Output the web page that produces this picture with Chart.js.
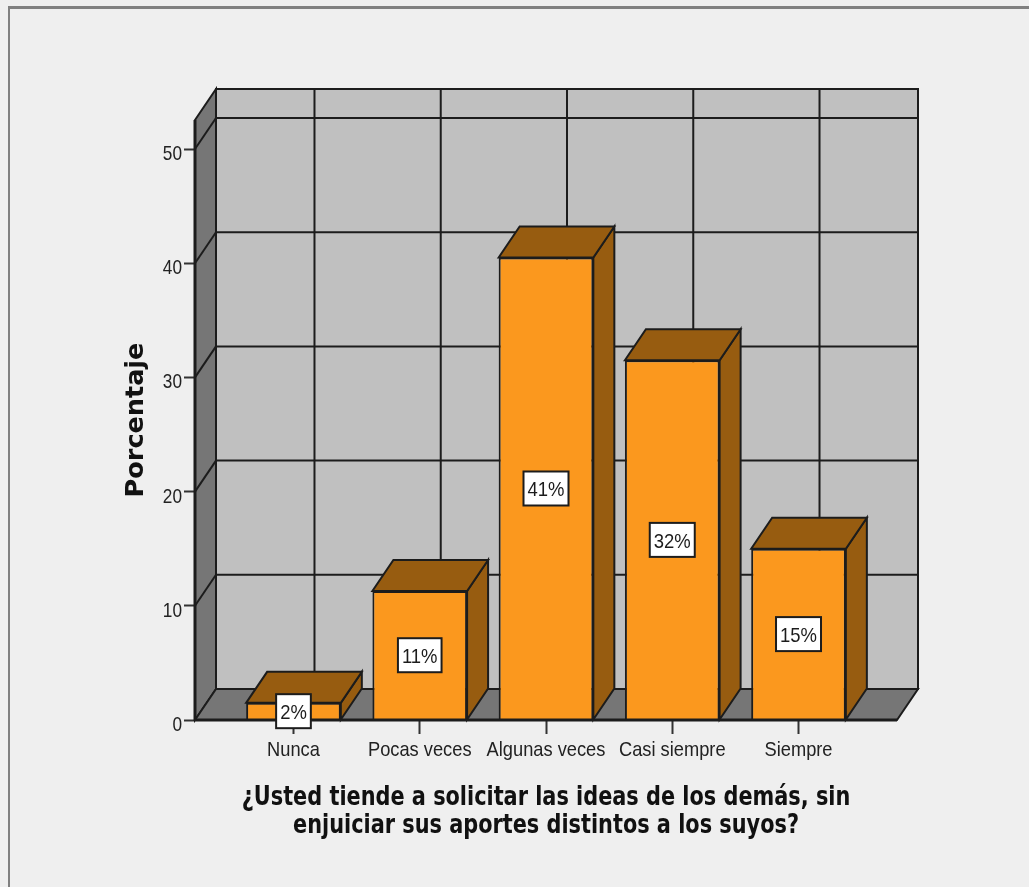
<!DOCTYPE html>
<html lang="es">
<head>
<meta charset="utf-8">
<title>Porcentaje</title>
<script src="https://cdn.jsdelivr.net/npm/chart.js@4"></script>
<style>
  html, body { margin: 0; padding: 0; background: #efefef; }
  body { width: 1029px; height: 887px; overflow: hidden; position: relative; }
  #frame { position: absolute; left: 8px; top: 6px; width: 1030px; height: 890px; border-top: 3px solid #808080; border-left: 2px solid #808080; }
  #chart { position: absolute; left: 0; top: 0; display: block; }
</style>
</head>
<body>
<div id="frame"></div>
<canvas id="chart" width="1029" height="887"></canvas>
<script>
const categories = ['Nunca', 'Pocas veces', 'Algunas veces', 'Casi siempre', 'Siempre'];
const percentValues = [1.5, 11.3, 40.5, 31.5, 15.0];
const barLabels = ['2%', '11%', '41%', '32%', '15%'];
const yTicks = [0, 10, 20, 30, 40, 50];
const yTitle = 'Porcentaje';
const xTitle = ['¿Usted tiende a solicitar las ideas de los demás, sin', 'enjuiciar sus aportes distintos a los suyos?'];

// depth of the fake 3d box, in pixels
const depthX = 21;
const depthY = 31;
const lineColor = '#1c1c1c';
const tickFont = "21px 'Liberation Sans'";

function polygon(ctx, points, fill) {
  ctx.beginPath();
  points.forEach((p, i) => (i ? ctx.lineTo(p[0], p[1]) : ctx.moveTo(p[0], p[1])));
  ctx.closePath();
  ctx.fillStyle = fill;
  ctx.fill();
  ctx.stroke();
}

function segment(ctx, x1, y1, x2, y2) {
  ctx.beginPath();
  ctx.moveTo(x1, y1);
  ctx.lineTo(x2, y2);
  ctx.stroke();
}

// the original fonts are condensed, no narrow font here so squeeze the text
function squeezedText(ctx, text, x, y, scaleX, rotation) {
  ctx.save();
  ctx.translate(x, y);
  if (rotation) ctx.rotate(rotation);
  ctx.scale(scaleX, 1);
  ctx.fillText(text, 0, 0);
  ctx.restore();
}

const box3d = {
  id: 'box3d',
  beforeDatasetsDraw(chart) {
    const { ctx, chartArea: area, scales } = chart;
    const { left, right, top, bottom } = area;
    ctx.save();
    ctx.strokeStyle = lineColor;
    ctx.lineWidth = 2;

    // back wall, side wall and floor
    polygon(ctx, [[left + depthX, top - depthY], [right + depthX, top - depthY], [right + depthX, bottom - depthY], [left + depthX, bottom - depthY]], '#c0c0c0');
    polygon(ctx, [[left, top], [left + depthX, top - depthY], [left + depthX, bottom - depthY], [left, bottom]], '#767676');
    polygon(ctx, [[left, bottom], [left + depthX, bottom - depthY], [right + depthX, bottom - depthY], [right, bottom]], '#767676');

    // grid lines on the walls
    yTicks.slice(1).forEach((tick) => {
      const y = scales.y.getPixelForValue(tick);
      segment(ctx, left, y, left + depthX, y - depthY);
      segment(ctx, left + depthX, y - depthY, right + depthX, y - depthY);
    });
    categories.forEach((name, i) => {
      const x = scales.x.getPixelForValue(i) + depthX;
      segment(ctx, x, top - depthY, x, bottom - depthY);
    });

    // sides and tops of the bars
    chart.getDatasetMeta(0).data.forEach((bar) => {
      const half = bar.width / 2;
      const l = bar.x - half;
      const r = bar.x + half;
      const t = bar.y;
      const b = bar.base;
      polygon(ctx, [[r, t], [r + depthX, t - depthY], [r + depthX, b - depthY], [r, b]], '#975c10');
      polygon(ctx, [[l, t], [l + depthX, t - depthY], [r + depthX, t - depthY], [r, t]], '#975c10');
    });
    ctx.restore();
  },
  afterDatasetsDraw(chart) {
    const { ctx, chartArea: area, scales } = chart;
    ctx.save();
    ctx.strokeStyle = lineColor;
    ctx.lineWidth = 3;
    segment(ctx, area.left, area.top, area.left, area.bottom);
    segment(ctx, area.left, area.bottom, area.right, area.bottom);

    // value labels in white boxes
    ctx.font = tickFont;
    ctx.textAlign = 'center';
    ctx.textBaseline = 'alphabetic';
    ctx.lineWidth = 2;
    chart.getDatasetMeta(0).data.forEach((bar, i) => {
      const cy = (bar.y + bar.base) / 2;
      const w = ctx.measureText(barLabels[i]).width * 0.88 + 8;
      ctx.fillStyle = '#ffffff';
      ctx.fillRect(bar.x - w / 2, cy - 17, w, 34);
      ctx.strokeRect(bar.x - w / 2, cy - 17, w, 34);
      ctx.fillStyle = '#1c1c1c';
      squeezedText(ctx, barLabels[i], bar.x, cy + 8, 0.88);
    });

    // axis tick labels, positions from the scales
    ctx.fillStyle = '#222222';
    scales.x.ticks.forEach((tick, i) => {
      squeezedText(ctx, tick.label, scales.x.getPixelForTick(i), area.bottom + 36, 0.87);
    });
    ctx.textAlign = 'right';
    scales.y.ticks.forEach((tick, i) => {
      squeezedText(ctx, tick.label, 182, scales.y.getPixelForTick(i) + 11, 0.82);
    });

    // axis titles
    ctx.fillStyle = '#111111';
    ctx.textAlign = 'center';
    ctx.font = "bold 27px 'DejaVu Sans'";
    xTitle.forEach((line, i) => {
      squeezedText(ctx, line, (area.left + area.right) / 2, area.bottom + 85 + i * 28, 0.772);
    });
    ctx.font = "bold 25px 'DejaVu Sans'";
    squeezedText(ctx, yTitle, 143, (area.top + area.bottom) / 2, 1.02, -Math.PI / 2);
    ctx.restore();
  }
};

new Chart(document.getElementById('chart'), {
  type: 'bar',
  data: {
    datasets: [{
      data: percentValues.map((value, i) => ({ x: i, y: value })),
      backgroundColor: '#fb981e',
      borderColor: lineColor,
      borderWidth: 2,
      barPercentage: 0.75,
      categoryPercentage: 1
    }]
  },
  options: {
    responsive: false,
    animation: false,
    layout: { padding: { left: 122, right: 132, top: 120, bottom: 47 } },
    plugins: { legend: { display: false }, tooltip: { enabled: false } },
    scales: {
      x: {
        type: 'linear',
        offset: false,
        min: -0.78,
        max: 4.78,
        afterBuildTicks(scale) { scale.ticks = categories.map((name, i) => ({ value: i })); },
        afterFit(scale) { scale.height = 120; },
        border: { display: false },
        grid: { offset: false, drawOnChartArea: false, tickLength: 14, tickColor: '#333333', tickWidth: 2 },
        ticks: { display: false, autoSkip: false, maxRotation: 0, callback: (value) => categories[value] }
      },
      y: {
        min: 0,
        max: 52.54,
        afterBuildTicks(scale) { scale.ticks = yTicks.map((value) => ({ value })); },
        afterFit(scale) { scale.width = 73; },
        border: { display: false },
        grid: { drawOnChartArea: false, tickLength: 11, tickColor: '#333333', tickWidth: 2 },
        ticks: { display: false }
      }
    }
  },
  plugins: [box3d]
});
</script>
</body>
</html>
